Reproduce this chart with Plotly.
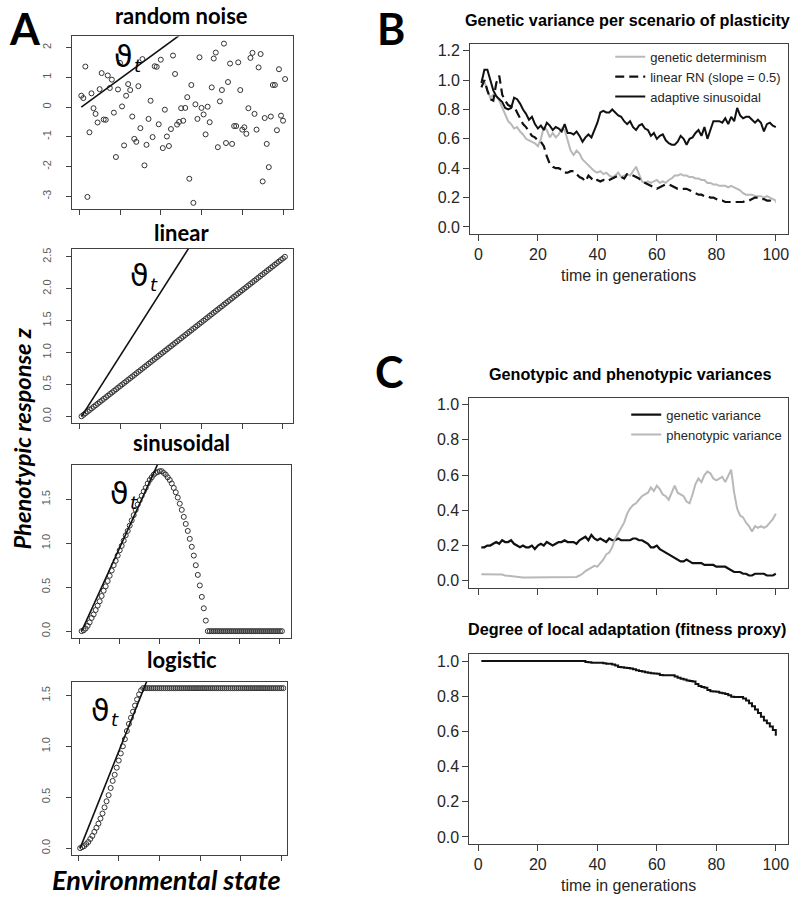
import plotly.graph_objects as go

W, H = 794, 899

# ---------------- data ----------------
env = list(range(1, 102))          # environmental state (panel A)
gen = list(range(1, 101))          # time in generations (panels B, C)

theta_env = [1, 101]
theta_z = [0.0, 5.0]

noise_z = [0.38, 0.30, 1.36, -3.02, -0.85, 0.46, -0.04, -0.23, -0.52, 0.60,
           1.14, -0.42, -0.43, 1.06, 0.64, 0.92, -0.19, -1.68, 0.59, 1.48,
           0.02, -1.29, 0.38, 0.77, 0.57, -0.32, -1.07, -1.17, 0.70, -0.71,
           1.61, -1.96, -1.27, -0.40, 0.21, -1.01, 1.37, 1.35, -0.58, 1.59,
           -1.38, -0.09, -0.99, -1.31, -0.74, 1.73, 1.11, -0.59, -0.50, -0.04,
           -0.46, -0.03, 0.33, -2.41, 0.74, -3.22, 0.09, -0.40, 1.67, -0.03,
           -0.25, -0.92, 0.01, -0.51, 0.66, 1.63, 1.83, -1.35, 0.19, 0.57,
           2.13, -1.21, 0.84, 1.46, -1.24, -0.64, -0.64, 1.50, 0.57, -0.76,
           -0.68, -0.90, -0.04, 1.65, 1.82, -0.23, -0.76, 1.33, 1.78, -2.50,
           -0.37, -1.24, -2.02, -0.32, 0.74, 0.74, -0.78, 1.27, -0.29, -0.46,
           0.94]

linear_z = [0.000, 0.025, 0.050, 0.075, 0.100, 0.125, 0.150, 0.175, 0.200, 0.225,
            0.250, 0.275, 0.300, 0.325, 0.350, 0.375, 0.400, 0.425, 0.450, 0.475,
            0.500, 0.525, 0.550, 0.575, 0.600, 0.625, 0.650, 0.675, 0.700, 0.725,
            0.750, 0.775, 0.800, 0.825, 0.850, 0.875, 0.900, 0.925, 0.950, 0.975,
            1.000, 1.025, 1.050, 1.075, 1.100, 1.125, 1.150, 1.175, 1.200, 1.225,
            1.250, 1.275, 1.300, 1.325, 1.350, 1.375, 1.400, 1.425, 1.450, 1.475,
            1.500, 1.525, 1.550, 1.575, 1.600, 1.625, 1.650, 1.675, 1.700, 1.725,
            1.750, 1.775, 1.800, 1.825, 1.850, 1.875, 1.900, 1.925, 1.950, 1.975,
            2.000, 2.025, 2.050, 2.075, 2.100, 2.125, 2.150, 2.175, 2.200, 2.225,
            2.250, 2.275, 2.300, 2.325, 2.350, 2.375, 2.400, 2.425, 2.450, 2.475,
            2.500]

sinus_z = [0.00, 0.01, 0.03, 0.06, 0.10, 0.15, 0.19, 0.24, 0.29, 0.34,
           0.40, 0.46, 0.51, 0.57, 0.63, 0.69, 0.75, 0.80, 0.86, 0.92,
           0.97, 1.03, 1.09, 1.14, 1.20, 1.26, 1.32, 1.38, 1.44, 1.49,
           1.54, 1.59, 1.63, 1.68, 1.72, 1.75, 1.78, 1.80, 1.81, 1.82,
           1.82, 1.80, 1.78, 1.75, 1.72, 1.68, 1.63, 1.58, 1.52, 1.45,
           1.38, 1.30, 1.22, 1.14, 1.05, 0.96, 0.86, 0.75, 0.64, 0.52,
           0.39, 0.26, 0.12, 0.00, 0.00, 0.00, 0.00, 0.00, 0.00, 0.00,
           0.00, 0.00, 0.00, 0.00, 0.00, 0.00, 0.00, 0.00, 0.00, 0.00,
           0.00, 0.00, 0.00, 0.00, 0.00, 0.00, 0.00, 0.00, 0.00, 0.00,
           0.00, 0.00, 0.00, 0.00, 0.00, 0.00, 0.00, 0.00, 0.00, 0.00,
           0.00]

logistic_z = [0.00, 0.01, 0.02, 0.04, 0.06, 0.09, 0.12, 0.16, 0.20, 0.24,
              0.29, 0.34, 0.40, 0.46, 0.52, 0.59, 0.66, 0.72, 0.79, 0.86,
              0.93, 1.00, 1.07, 1.15, 1.22, 1.28, 1.34, 1.40, 1.46, 1.51,
              1.55, 1.571, 1.571, 1.571, 1.571, 1.571, 1.571, 1.571, 1.571, 1.571,
              1.571, 1.571, 1.571, 1.571, 1.571, 1.571, 1.571, 1.571, 1.571, 1.571,
              1.571, 1.571, 1.571, 1.571, 1.571, 1.571, 1.571, 1.571, 1.571, 1.571,
              1.571, 1.571, 1.571, 1.571, 1.571, 1.571, 1.571, 1.571, 1.571, 1.571,
              1.571, 1.571, 1.571, 1.571, 1.571, 1.571, 1.571, 1.571, 1.571, 1.571,
              1.571, 1.571, 1.571, 1.571, 1.571, 1.571, 1.571, 1.571, 1.571, 1.571,
              1.571, 1.571, 1.571, 1.571, 1.571, 1.571, 1.571, 1.571, 1.571, 1.571,
              1.571]

gv_determinism = [1.01, 0.99, 0.93, 0.88, 0.90, 0.89, 0.86, 0.81, 0.76, 0.72,
                  0.70, 0.67, 0.68, 0.65, 0.63, 0.60, 0.59, 0.58, 0.57, 0.55,
                  0.60, 0.68, 0.66, 0.61, 0.64, 0.61, 0.63, 0.67, 0.66, 0.59,
                  0.52, 0.49, 0.52, 0.50, 0.46, 0.44, 0.42, 0.40, 0.38, 0.37,
                  0.38, 0.36, 0.37, 0.35, 0.34, 0.35, 0.37, 0.34, 0.35, 0.36,
                  0.35, 0.38, 0.41, 0.36, 0.31, 0.30, 0.31, 0.30, 0.31, 0.32,
                  0.30, 0.31, 0.30, 0.32, 0.33, 0.35, 0.35, 0.36, 0.35, 0.35,
                  0.34, 0.34, 0.33, 0.33, 0.32, 0.32, 0.30, 0.30, 0.29, 0.29,
                  0.28, 0.28, 0.28, 0.27, 0.28, 0.27, 0.26, 0.25, 0.23, 0.22,
                  0.22, 0.22, 0.21, 0.21, 0.21, 0.20, 0.21, 0.20, 0.19, 0.18]

gv_linear = [0.95, 1.00, 0.93, 0.87, 0.86, 0.98, 1.03, 0.90, 0.86, 0.83,
             0.82, 0.82, 0.78, 0.74, 0.70, 0.68, 0.65, 0.62, 0.61, 0.59,
             0.58, 0.55, 0.48, 0.43, 0.41, 0.40, 0.40, 0.39, 0.37, 0.37,
             0.38, 0.38, 0.36, 0.34, 0.33, 0.31, 0.35, 0.33, 0.31, 0.32,
             0.31, 0.32, 0.31, 0.32, 0.33, 0.34, 0.35, 0.34, 0.33, 0.36,
             0.36, 0.35, 0.34, 0.33, 0.31, 0.30, 0.29, 0.28, 0.27, 0.26,
             0.27, 0.28, 0.29, 0.29, 0.28, 0.27, 0.26, 0.26, 0.26, 0.26,
             0.25, 0.24, 0.23, 0.22, 0.22, 0.21, 0.21, 0.20, 0.20, 0.19,
             0.18, 0.18, 0.17, 0.17, 0.17, 0.17, 0.17, 0.17, 0.17, 0.18,
             0.18, 0.19, 0.20, 0.20, 0.19, 0.19, 0.18, 0.18, 0.17, 0.17]

gv_sinusoidal = [0.98, 1.07, 1.07, 0.99, 0.93, 0.89, 0.87, 0.85, 0.81, 0.80,
                 0.81, 0.88, 0.87, 0.84, 0.80, 0.77, 0.73, 0.75, 0.70, 0.67,
                 0.69, 0.66, 0.71, 0.69, 0.66, 0.68, 0.67, 0.65, 0.70, 0.64,
                 0.64, 0.63, 0.65, 0.62, 0.58, 0.61, 0.63, 0.61, 0.66, 0.71,
                 0.78, 0.79, 0.78, 0.78, 0.80, 0.78, 0.76, 0.75, 0.72, 0.70,
                 0.72, 0.68, 0.66, 0.69, 0.70, 0.67, 0.66, 0.62, 0.64, 0.60,
                 0.62, 0.63, 0.59, 0.57, 0.56, 0.56, 0.58, 0.62, 0.60, 0.56,
                 0.60, 0.61, 0.64, 0.66, 0.62, 0.68, 0.60, 0.66, 0.72, 0.72,
                 0.72, 0.71, 0.74, 0.70, 0.75, 0.72, 0.81, 0.76, 0.74, 0.75,
                 0.75, 0.73, 0.71, 0.73, 0.71, 0.65, 0.70, 0.71, 0.69, 0.68]

genetic_var = [0.19, 0.19, 0.20, 0.20, 0.21, 0.22, 0.21, 0.23, 0.22, 0.22,
               0.23, 0.21, 0.20, 0.19, 0.20, 0.19, 0.19, 0.20, 0.18, 0.20,
               0.21, 0.20, 0.22, 0.21, 0.20, 0.21, 0.22, 0.22, 0.23, 0.22,
               0.22, 0.22, 0.21, 0.23, 0.24, 0.25, 0.23, 0.26, 0.24, 0.23,
               0.24, 0.23, 0.22, 0.24, 0.23, 0.23, 0.24, 0.23, 0.23, 0.23,
               0.23, 0.24, 0.24, 0.23, 0.23, 0.22, 0.21, 0.19, 0.19, 0.20,
               0.18, 0.17, 0.16, 0.15, 0.14, 0.13, 0.12, 0.11, 0.11, 0.12,
               0.11, 0.10, 0.10, 0.10, 0.10, 0.09, 0.09, 0.09, 0.09, 0.08,
               0.08, 0.08, 0.08, 0.07, 0.06, 0.05, 0.05, 0.05, 0.04, 0.04,
               0.03, 0.03, 0.04, 0.04, 0.04, 0.04, 0.03, 0.03, 0.03, 0.04]

phenotypic_var = [0.037, 0.037, 0.037, 0.037, 0.037, 0.037, 0.037, 0.035, 0.030, 0.028,
                  0.025, 0.022, 0.019, 0.019, 0.019, 0.019, 0.019, 0.019, 0.019, 0.019,
                  0.019, 0.019, 0.019, 0.019, 0.019, 0.019, 0.019, 0.019, 0.019, 0.019,
                  0.019, 0.019, 0.022, 0.030, 0.040, 0.055, 0.065, 0.075, 0.085, 0.080,
                  0.100, 0.120, 0.150, 0.160, 0.190, 0.240, 0.270, 0.300, 0.330, 0.380,
                  0.410, 0.430, 0.440, 0.460, 0.480, 0.490, 0.500, 0.530, 0.510, 0.540,
                  0.520, 0.490, 0.480, 0.460, 0.500, 0.540, 0.500, 0.490, 0.480, 0.450,
                  0.440, 0.490, 0.550, 0.580, 0.560, 0.600, 0.620, 0.610, 0.580, 0.570,
                  0.580, 0.590, 0.560, 0.600, 0.630, 0.500, 0.410, 0.370, 0.360, 0.330,
                  0.310, 0.280, 0.310, 0.300, 0.310, 0.300, 0.310, 0.330, 0.350, 0.380]

fitness = [1.000, 1.000, 1.000, 1.000, 1.000, 1.000, 1.000, 1.000, 1.000, 1.000,
           1.000, 1.000, 1.000, 1.000, 1.000, 1.000, 1.000, 1.000, 1.000, 1.000,
           1.000, 1.000, 1.000, 1.000, 1.000, 1.000, 1.000, 1.000, 1.000, 1.000,
           1.000, 1.000, 1.000, 1.000, 1.000, 0.995, 0.993, 0.990, 0.990, 0.990,
           0.990, 0.988, 0.985, 0.985, 0.980, 0.975, 0.966, 0.965, 0.962, 0.960,
           0.957, 0.953, 0.948, 0.943, 0.940, 0.936, 0.933, 0.930, 0.929, 0.928,
           0.920, 0.919, 0.919, 0.919, 0.919, 0.912, 0.905, 0.900, 0.895, 0.890,
           0.886, 0.884, 0.870, 0.858, 0.853, 0.848, 0.836, 0.828, 0.827, 0.825,
           0.820, 0.817, 0.812, 0.806, 0.797, 0.796, 0.796, 0.796, 0.787, 0.775,
           0.760, 0.743, 0.725, 0.705, 0.683, 0.662, 0.646, 0.628, 0.608, 0.575]

gen_ticks = [0, 20, 40, 60, 80, 100]

# ---------------- style ----------------
SANS = "Liberation Sans, Arial, sans-serif"
CAL = "Lato, Open Sans, sans-serif"
FRAME = "#404040"
GRAY = "#b8b8b8"
DARK = "#111111"
A_TICK = dict(family=SANS, size=11, color="#5a5a5a")
BC_TICK = dict(family=SANS, size=16, color="#262626")


def px(x):
    return x / W


def py(y):
    return 1 - y / H


fig = go.Figure()

# panel layout (pixel boxes)
panels = [
    dict(xd=(72, 293), yd=(35.6, 208.8), xr=(-3.6, 104.7), yr=(-3.43, 2.37),
         yt=[-3, -2, -1, 0, 1, 2], ytt=["-3", "-2", "-1", "0", "1", "2"], kind="A"),
    dict(xd=(72.5, 293), yd=(248.6, 423.2), xr=(-3.5, 104.8), yr=(-0.101, 2.626),
         yt=[0, 0.5, 1, 1.5, 2, 2.5], ytt=["0.0", "0.5", "1.0", "1.5", "2.0", "2.5"], kind="A"),
    dict(xd=(71.7, 291.7), yd=(465.3, 638.7), xr=(-4.0, 105.7), yr=(-0.073, 1.893),
         yt=[0, 0.5, 1, 1.5], ytt=["0.0", "0.5", "1.0", "1.5"], kind="A"),
    dict(xd=(71.7, 287), yd=(683, 856.4), xr=(-3.2, 102.6), yr=(-0.063, 1.634),
         yt=[0, 0.5, 1, 1.5], ytt=["0.0", "0.5", "1.0", "1.5"], kind="A"),
    dict(xd=(470.7, 789), yd=(42.8, 233.8), xr=(-2.8, 104.1), yr=(-0.048, 1.248),
         yt=[0, 0.2, 0.4, 0.6, 0.8, 1.0, 1.2],
         ytt=["0.0", "0.2", "0.4", "0.6", "0.8", "1.0", "1.2"], kind="B", xl=True),
    dict(xd=(470, 789), yd=(397.9, 588.8), xr=(-3.0, 104.1), yr=(-0.04, 1.04),
         yt=[0, 0.2, 0.4, 0.6, 0.8, 1.0],
         ytt=["0.0", "0.2", "0.4", "0.6", "0.8", "1.0"], kind="B", xl=False),
    dict(xd=(470, 789), yd=(655.2, 845.8), xr=(-3.0, 104.1), yr=(-0.04, 1.04),
         yt=[0, 0.2, 0.4, 0.6, 0.8, 1.0],
         ytt=["0.0", "0.2", "0.4", "0.6", "0.8", "1.0"], kind="B", xl=True),
]

layout_axes = {}
for i, p in enumerate(panels, start=1):
    sx = "" if i == 1 else str(i)
    common = dict(showline=True, linecolor=FRAME, linewidth=1, mirror=True,
                  ticks="outside", tickcolor=FRAME, tickwidth=1,
                  showgrid=False, zeroline=False, fixedrange=True)
    xa = dict(common, domain=[px(p["xd"][0]), px(p["xd"][1])], range=list(p["xr"]),
              anchor="y" + sx, tickvals=gen_ticks)
    ya = dict(common, domain=[py(p["yd"][1]), py(p["yd"][0])], range=list(p["yr"]),
              anchor="x" + sx, tickvals=p["yt"], ticktext=p["ytt"])
    if p["kind"] == "A":
        xa.update(showticklabels=False, ticklen=5)
        ya.update(ticklen=5, tickangle=-90, tickfont=A_TICK, ticklabelstandoff=11)
    else:
        xa.update(ticklen=6, showticklabels=p["xl"], tickfont=BC_TICK,
                  ticktext=[str(v) for v in gen_ticks])
        ya.update(ticklen=6, tickfont=BC_TICK)
    layout_axes["xaxis" + sx] = xa
    layout_axes["yaxis" + sx] = ya

# ---------------- panel A traces ----------------
a_series = [noise_z, linear_z, sinus_z, logistic_z]
for i, zs in enumerate(a_series, start=1):
    sx = "" if i == 1 else str(i)
    fig.add_trace(go.Scatter(x=env[:len(zs)], y=zs, mode="markers", xaxis="x" + sx, yaxis="y" + sx,
                             marker=dict(symbol="circle-open", size=5, color="#333333",
                                         line=dict(width=1)),
                             showlegend=False, hoverinfo="skip"))
    fig.add_trace(go.Scatter(x=theta_env, y=theta_z, mode="lines", xaxis="x" + sx, yaxis="y" + sx,
                             line=dict(color="#111111", width=1.6),
                             showlegend=False, hoverinfo="skip"))

# ---------------- panel B ----------------
fig.add_trace(go.Scatter(x=gen, y=gv_determinism, mode="lines", xaxis="x5", yaxis="y5",
                         name="genetic determinism", line=dict(color=GRAY, width=2),
                         legend="legend"))
fig.add_trace(go.Scatter(x=gen, y=gv_linear, mode="lines", xaxis="x5", yaxis="y5",
                         name="linear RN (slope = 0.5)",
                         line=dict(color=DARK, width=2.2, dash="9px,5px"),
                         legend="legend"))
fig.add_trace(go.Scatter(x=gen, y=gv_sinusoidal, mode="lines", xaxis="x5", yaxis="y5",
                         name="adaptive sinusoidal", line=dict(color=DARK, width=2),
                         legend="legend"))

# ---------------- panel C ----------------
fig.add_trace(go.Scatter(x=gen, y=genetic_var, mode="lines", xaxis="x6", yaxis="y6",
                         name="genetic variance", line=dict(color=DARK, width=2.2),
                         legend="legend2"))
fig.add_trace(go.Scatter(x=gen, y=phenotypic_var, mode="lines", xaxis="x6", yaxis="y6",
                         name="phenotypic variance", line=dict(color=GRAY, width=2),
                         legend="legend2"))
fig.add_trace(go.Scatter(x=gen, y=fitness, mode="lines", xaxis="x7", yaxis="y7",
                         line=dict(color=DARK, width=2, shape="hv"), showlegend=False))

# ---------------- text ----------------
ann = []


def add_text(text, x, y, size, family, color="#000000", angle=0, xanchor="center"):
    ann.append(dict(text=text, x=px(x), y=py(y), xref="paper", yref="paper",
                    xanchor=xanchor, yanchor="middle", showarrow=False, textangle=angle,
                    font=dict(family=family, size=size, color=color)))


# panel letters
add_text("<b>A</b>", 25, 28, 43, CAL)
add_text("<b>B</b>", 391, 28, 43, CAL)
add_text("<b>C</b>", 389, 372, 43, CAL)

# panel A titles
add_text("<b>random noise</b>", 182, 15, 22, CAL)
add_text("<b>linear</b>", 182, 232, 22, CAL)
add_text("<b>sinusoidal</b>", 182, 443, 22, CAL)
add_text("<b>logistic</b>", 182, 661, 22, CAL)

# theta_t labels (symbol + italic subscript t)
TH = "DejaVu Sans, sans-serif"
for (tx, ty) in [(124, 56), (140, 275), (120, 494), (101, 712)]:
    add_text("ϑ", tx, ty, 30, TH)
    add_text("<i>t</i>", tx + 14, ty + 9, 18, TH)

# panel A axis titles
add_text("<b><i>Phenotypic response z</i></b>", 22, 439, 23.7, CAL, angle=-90)
add_text("<b><i>Environmental state</i></b>", 167, 881, 27, CAL)

# panel B / C titles
add_text("<b>Genetic variance per scenario of plasticity</b>", 628, 19, 16.2, SANS)
add_text("<b>Genotypic and phenotypic variances</b>", 631, 374.5, 16.2, SANS)
add_text("<b>Degree of local adaptation (fitness proxy)</b>", 628, 630.5, 16.2, SANS)
add_text("time in generations", 629, 275, 16, SANS, color="#262626")
add_text("time in generations", 629, 887, 16, SANS, color="#262626")

leg_common = dict(xanchor="left", yanchor="top", bgcolor="rgba(0,0,0,0)", borderwidth=0,
                  font=dict(family=SANS, size=13, color="#262626"), itemwidth=30,
                  tracegroupgap=0, traceorder="normal")

fig.update_layout(
    width=W, height=H, margin=dict(l=0, r=0, t=0, b=0),
    paper_bgcolor="white", plot_bgcolor="white",
    showlegend=True,
    legend=dict(leg_common, x=px(611), y=py(41)),
    legend2=dict(leg_common, x=px(627), y=py(400)),
    annotations=ann,
    **layout_axes,
)

fig.write_html("out.html")
